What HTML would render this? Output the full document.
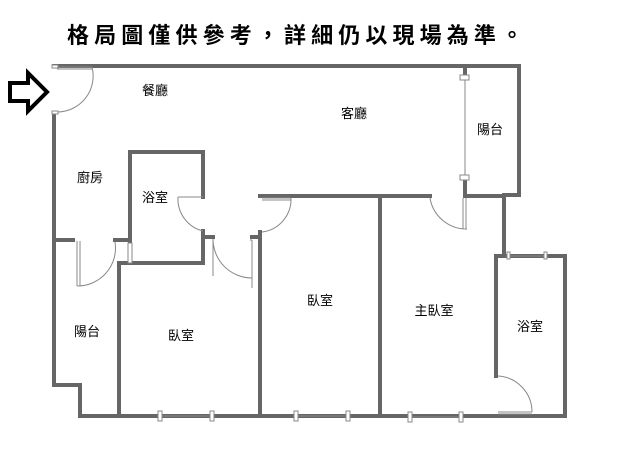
<!DOCTYPE html>
<html><head><meta charset="utf-8"><style>
html,body{margin:0;padding:0;background:#fff;width:638px;height:460px;overflow:hidden}
svg{display:block}
text{font-family:"Liberation Sans","Noto Sans CJK TC",sans-serif}
</style></head><body>
<svg width="638" height="460" viewBox="0 0 638 460" xmlns="http://www.w3.org/2000/svg">
<text x="67" y="43" font-size="22" font-weight="bold" textLength="456" lengthAdjust="spacing" fill="#000">格局圖僅供參考，詳細仍以現場為準。</text>
<!-- entrance arrow -->
<polygon points="10,83 28,83 28,73 47,92 28,111 28,101 10,101" fill="none" stroke="#000" stroke-width="4" stroke-linejoin="miter"/>
<g stroke="#666" stroke-width="4" fill="none" stroke-linecap="square">
<!-- outer -->
<polyline points="54,66 519,66 519,195 504,195"/>
<polyline points="54,115 54,385 80,385 80,416 565,416 565,256 496,256"/>
<line x1="504" y1="195" x2="504" y2="256"/>
<line x1="496" y1="256" x2="496" y2="376"/>
<!-- living bottom wall -->
<line x1="260" y1="196" x2="430" y2="196"/>
<line x1="467" y1="196" x2="504" y2="196"/>
<!-- balcony divider stubs -->
<line x1="465" y1="66" x2="465" y2="76"/>
<line x1="465" y1="180" x2="465" y2="196"/>
<!-- kitchen bottom -->
<line x1="54" y1="240" x2="73" y2="240"/>
<line x1="115" y1="240" x2="130" y2="240"/>
<!-- bath -->
<polyline points="130,242 130,152 203,152 203,197"/>
<polyline points="203,231 203,263 119,263 119,416"/>
<line x1="203" y1="237" x2="213" y2="237"/>
<line x1="252" y1="237" x2="260" y2="237"/>
<line x1="260" y1="232" x2="260" y2="416"/>
<line x1="380" y1="196" x2="380" y2="416"/>
</g>
<g stroke="#888" stroke-width="1" fill="#fff">
<!-- windows -->
<line x1="465" y1="78" x2="465" y2="180"/>
<rect x="460" y="75" width="9" height="5"/><rect x="460" y="175" width="9" height="5"/>
<line x1="160" y1="416" x2="212" y2="416"/><rect x="158" y="411" width="4" height="10"/><rect x="210" y="411" width="4" height="10"/>
<line x1="296" y1="416" x2="348" y2="416"/><rect x="294" y="411" width="4" height="10"/><rect x="346" y="411" width="4" height="10"/>
<line x1="410" y1="417" x2="461" y2="417"/><rect x="408" y="412" width="4" height="10"/><rect x="459" y="412" width="4" height="10"/>
<line x1="508" y1="256" x2="545" y2="256"/><rect x="507" y="252" width="3" height="7"/><rect x="544" y="252" width="3" height="7"/>
<rect x="128" y="243" width="4" height="20"/>
</g>
<g stroke="#888" stroke-width="1" fill="none">
<!-- doors -->
<path d="M57,67 H92 M57,69 H92 M92,67 A36,36 0 0 1 57,112"/>
<rect x="52" y="65" width="6" height="3" fill="#fff"/><rect x="52" y="111" width="6" height="3" fill="#fff"/>
<path d="M77,241 V286 M80,241 V286 M77,286 A38,38 0 0 0 115,242"/>
<path d="M213,239 V276 M252,240 V288 M252,240 L250,240 M213,239 A39,39 0 0 0 252,278"/>
<path d="M178,197 H203 M178,197 A33,33 0 0 0 203,231"/>
<path d="M262,198 H291 M262,200 H291 M291,198 A33,33 0 0 1 262,232"/>
<path d="M430,198 A37,37 0 0 0 467,229 M463,198 V229 M466,198 V229"/>
<path d="M498,376 A36,36 0 0 1 532,412 M498,412 H532 M498,414 H532"/>
</g>
<g font-size="13" fill="#000" text-anchor="middle">
<text x="155" y="95">餐廳</text>
<text x="354" y="118">客廳</text>
<text x="490" y="134">陽台</text>
<text x="90" y="182">廚房</text>
<text x="155" y="202">浴室</text>
<text x="87" y="336">陽台</text>
<text x="181" y="340">臥室</text>
<text x="320" y="305">臥室</text>
<text x="434" y="315">主臥室</text>
<text x="530" y="331">浴室</text>
</g>
</svg>
</body></html>
